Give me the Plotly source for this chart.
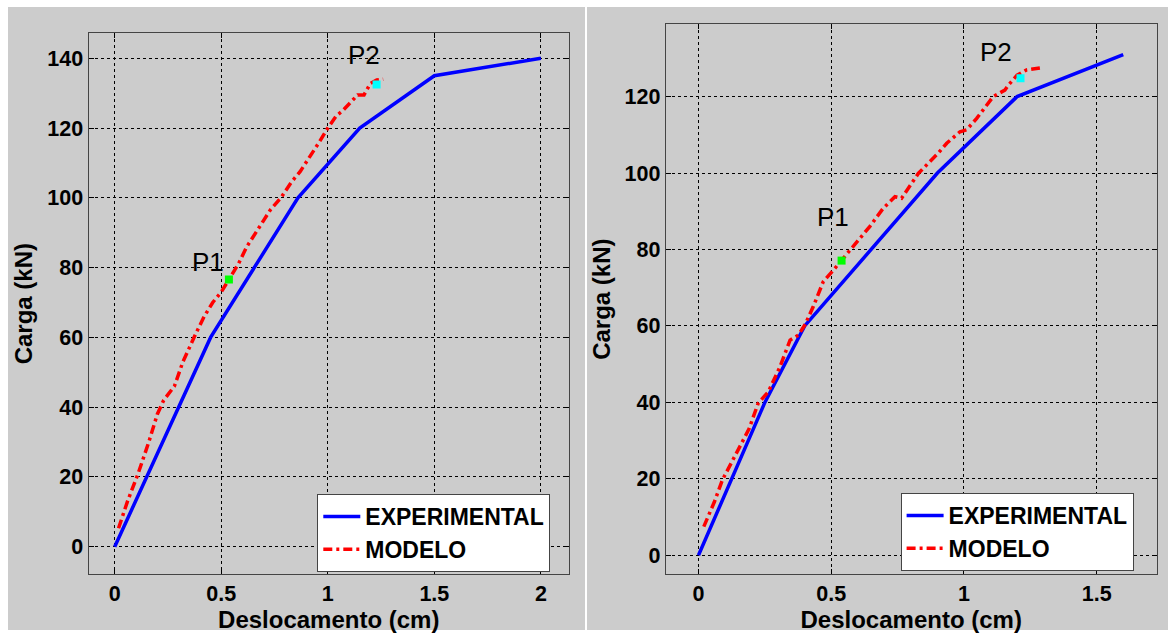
import plotly.graph_objects as go

# ---------------- data ----------------
# Left panel
exp_left_x = [0, 0.45, 0.86, 1.15, 1.5, 2.0]
exp_left_y = [0, 60, 100, 120, 135, 140]

mod_left_x = [0.018, 0.06, 0.11, 0.16, 0.2, 0.23, 0.28, 0.32, 0.38, 0.42, 0.46, 0.5,
              0.54, 0.58, 0.62, 0.68, 0.73, 0.78, 0.83, 0.87, 0.92, 0.96, 1.0, 1.04,
              1.07, 1.1, 1.14, 1.17, 1.2, 1.23, 1.26]
mod_left_y = [5.3, 13, 21, 30, 38, 42, 46, 53, 61, 66, 70, 73,
              77, 81, 86, 91.5, 96.5, 100, 104.6, 107.5, 112, 116, 120, 123.5,
              125, 127, 129.5, 129.5, 132.8, 133.8, 134]

p1_left = (0.536, 76.6)
p2_left = (1.229, 132.5)

# Right panel
exp_right_x = [0, 0.25, 0.4, 0.9, 1.2, 1.6]
exp_right_y = [0, 40, 60, 100, 120, 131]

mod_right_x = [0.02, 0.06, 0.09, 0.13, 0.156, 0.19, 0.225, 0.263, 0.307, 0.345, 0.376,
               0.401, 0.432, 0.47, 0.508, 0.539, 0.57, 0.645, 0.696, 0.74, 0.765, 0.79,
               0.828, 0.866, 0.903, 0.935, 0.985, 1.01, 1.048, 1.11, 1.154, 1.167, 1.2,
               1.236, 1.286]
mod_right_y = [7.5, 14, 19.7, 25, 28, 33, 39.8, 42.8, 49.3, 56.3, 57.6,
               60.3, 65, 71.6, 74.6, 77.1, 79.9, 86, 90.8, 93.8, 93.4, 96,
               99.9, 102.6, 105.2, 107.8, 110.8, 111.3, 114.3, 120, 121.7, 123, 125.6,
               127, 127.5]

p1_right = (0.539, 77.1)
p2_right = (1.213, 124.8)

# label anchors (data coords)
p1_left_lbl = (0.44, 81.7)
p2_left_lbl = (1.17, 140.9)
p1_right_lbl = (0.506, 88.4)
p2_right_lbl = (1.122, 131.8)

left_xticks = [0, 0.5, 1, 1.5, 2]
left_yticks = [0, 20, 40, 60, 80, 100, 120, 140]
right_xticks = [0, 0.5, 1, 1.5]
right_yticks = [0, 20, 40, 60, 80, 100, 120]

# ---------------- figure ----------------
W, H = 1168, 633
FONT = "Liberation Sans, Arial, Helvetica, sans-serif"
BLUE = "#0000ff"
RED = "#ff0000"
DASHDOT = "9px,4px,3px,4px"


def fx(px):
    return px / W


def fy(py):
    return 1 - py / H


fig = go.Figure()

# left traces
fig.add_trace(go.Scatter(x=exp_left_x, y=exp_left_y, mode="lines", name="EXPERIMENTAL",
                         line=dict(color=BLUE, width=3.5), xaxis="x", yaxis="y", legend="legend"))
fig.add_trace(go.Scatter(x=mod_left_x, y=mod_left_y, mode="lines", name="MODELO",
                         line=dict(color=RED, width=3.5, dash=DASHDOT), xaxis="x", yaxis="y",
                         legend="legend"))
fig.add_trace(go.Scatter(x=[p1_left[0]], y=[p1_left[1]], mode="markers", showlegend=False,
                         marker=dict(symbol="square", size=8, color="#00ff00"), xaxis="x", yaxis="y"))
fig.add_trace(go.Scatter(x=[p2_left[0]], y=[p2_left[1]], mode="markers", showlegend=False,
                         marker=dict(symbol="square", size=8, color="#00ffff"), xaxis="x", yaxis="y"))

# right traces
fig.add_trace(go.Scatter(x=exp_right_x, y=exp_right_y, mode="lines", name="EXPERIMENTAL",
                         line=dict(color=BLUE, width=3.5), xaxis="x2", yaxis="y2", legend="legend2"))
fig.add_trace(go.Scatter(x=mod_right_x, y=mod_right_y, mode="lines", name="MODELO",
                         line=dict(color=RED, width=3.5, dash=DASHDOT), xaxis="x2", yaxis="y2",
                         legend="legend2"))
fig.add_trace(go.Scatter(x=[p1_right[0]], y=[p1_right[1]], mode="markers", showlegend=False,
                         marker=dict(symbol="square", size=8, color="#00ff00"), xaxis="x2", yaxis="y2"))
fig.add_trace(go.Scatter(x=[p2_right[0]], y=[p2_right[1]], mode="markers", showlegend=False,
                         marker=dict(symbol="square", size=8, color="#00ffff"), xaxis="x2", yaxis="y2"))

tickfont = dict(family=FONT, size=21.5, color="black", weight="bold")
titlefont = dict(family=FONT, size=24, color="black", weight="bold")
legfont = dict(family=FONT, size=23, color="black", weight="bold")

common = dict(
    showgrid=True, gridcolor="black", griddash="dot", gridwidth=1,
    zeroline=False, showline=True, linecolor="#444444", linewidth=1, mirror="ticks",
    ticks="inside", ticklen=5, tickcolor="black", tickwidth=1,
    tickfont=tickfont, automargin=False,
)

fig.update_layout(
    width=W, height=H,
    margin=dict(l=0, r=0, t=0, b=0),
    paper_bgcolor="white", plot_bgcolor="white",
    xaxis=dict(domain=[fx(88.5), fx(569)], range=[-0.123, 2.132], tickvals=left_xticks,
               anchor="y", title=dict(text="Deslocamento (cm)", font=titlefont, standoff=0), **common),
    yaxis=dict(domain=[fy(574.3), fy(33)], range=[-7.9, 147.25], tickvals=left_yticks,
               anchor="x", title=dict(text="Carga (kN)", font=titlefont, standoff=7), **common),
    xaxis2=dict(domain=[fx(665.7), fx(1156.7)], range=[-0.1235, 1.726], tickvals=right_xticks,
                anchor="y2", title=dict(text="Deslocamento (cm)", font=titlefont, standoff=0), **common),
    yaxis2=dict(domain=[fy(574.3), fy(24)], range=[-4.97, 139.0], tickvals=right_yticks,
                anchor="x2", title=dict(text="Carga (kN)", font=titlefont, standoff=7), **common),
    legend=dict(x=fx(317.3), y=fy(494), xanchor="left", yanchor="top", xref="paper", yref="paper",
                bgcolor="white", bordercolor="#444444", borderwidth=1, itemwidth=37,
                font=legfont, tracegroupgap=0),
    legend2=dict(x=fx(900.6), y=fy(493), xanchor="left", yanchor="top", xref="paper", yref="paper",
                 bgcolor="white", bordercolor="#444444", borderwidth=1, itemwidth=37,
                 font=legfont, tracegroupgap=0),
    shapes=[
        dict(type="rect", xref="paper", yref="paper", x0=fx(8), x1=fx(585), y0=fy(630), y1=fy(7),
             fillcolor="#cccccc", line=dict(width=0), layer="below"),
        dict(type="rect", xref="paper", yref="paper", x0=fx(587), x1=fx(1168), y0=fy(630), y1=fy(7),
             fillcolor="#cccccc", line=dict(width=0), layer="below"),
    ],
    annotations=[
        dict(x=p1_left_lbl[0], y=p1_left_lbl[1], xref="x", yref="y", text="P1", showarrow=False,
             font=dict(family=FONT, size=26, color="black")),
        dict(x=p2_left_lbl[0], y=p2_left_lbl[1], xref="x", yref="y", text="P2", showarrow=False,
             font=dict(family=FONT, size=26, color="black")),
        dict(x=p1_right_lbl[0], y=p1_right_lbl[1], xref="x2", yref="y2", text="P1", showarrow=False,
             font=dict(family=FONT, size=26, color="black")),
        dict(x=p2_right_lbl[0], y=p2_right_lbl[1], xref="x2", yref="y2", text="P2", showarrow=False,
             font=dict(family=FONT, size=26, color="black")),
    ],
)

fig.write_html("out.html")
